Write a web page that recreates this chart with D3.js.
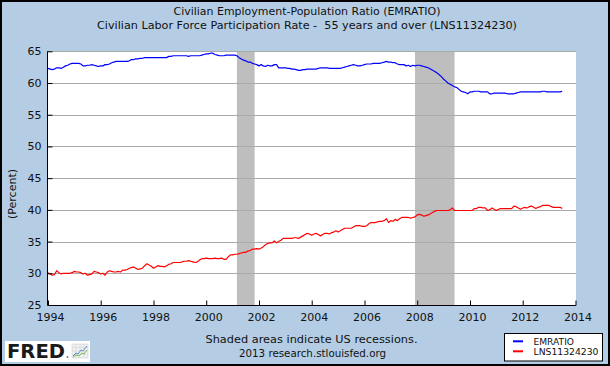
<!DOCTYPE html>
<html>
<head>
<meta charset="utf-8">
<script src="https://cdn.jsdelivr.net/npm/d3@7"></script>
<style>
html,body{margin:0;padding:0;background:#fff;}
svg{display:block;font-family:"DejaVu Sans",Verdana,sans-serif;}
</style>
</head>
<body>
<svg id="c" width="610" height="366"></svg>
<script>
// ---- Data (monthly, Jan 1994 .. Jul 2013) ----
const startYear = 1994;
const emratio = [
62.3,62.2,62.1,62.2,62.4,62.4,62.3,62.5,62.7,62.8,63.0,63.1,
63.1,63.1,63.1,63.0,62.7,62.7,62.8,62.8,62.9,62.8,62.7,62.6,
62.7,62.7,62.9,62.9,63.0,63.2,63.3,63.4,63.4,63.4,63.4,63.4,
63.4,63.5,63.7,63.7,63.8,63.8,63.9,63.9,64.0,64.0,64.0,64.0,
64.0,64.0,64.0,64.0,64.0,64.0,64.0,64.2,64.2,64.3,64.3,64.3,
64.3,64.3,64.3,64.3,64.2,64.3,64.3,64.3,64.3,64.3,64.4,64.5,
64.6,64.6,64.7,64.7,64.5,64.4,64.3,64.3,64.3,64.4,64.4,64.4,
64.4,64.4,64.3,64.0,63.8,63.6,63.5,63.3,63.3,63.1,63.0,62.9,
62.7,62.9,62.7,62.6,62.8,62.7,62.7,62.9,62.9,62.4,62.4,62.4,
62.4,62.3,62.3,62.2,62.2,62.1,62.0,62.0,62.1,62.1,62.2,62.2,
62.2,62.2,62.2,62.3,62.4,62.4,62.4,62.4,62.3,62.3,62.3,62.3,
62.3,62.3,62.4,62.5,62.6,62.7,62.8,62.9,62.8,62.7,62.7,62.8,
62.9,63.0,63.0,63.0,63.1,63.1,63.1,63.1,63.2,63.3,63.4,63.3,
63.3,63.2,63.2,63.0,62.9,62.9,62.9,62.7,62.8,62.6,62.8,62.7,
62.8,62.8,62.7,62.6,62.5,62.4,62.2,62.0,61.8,61.6,61.3,61.0,
60.6,60.3,60.0,59.8,59.6,59.4,59.3,59.0,58.7,58.6,58.5,58.3,
58.6,58.6,58.7,58.7,58.7,58.6,58.6,58.6,58.6,58.3,58.3,58.4,
58.4,58.4,58.4,58.4,58.4,58.3,58.3,58.3,58.3,58.4,58.5,58.6,
58.6,58.6,58.6,58.6,58.6,58.6,58.6,58.6,58.6,58.7,58.7,58.6,
58.6,58.6,58.6,58.6,58.6,58.6,58.7
];
const lns11324230 = [
30.1,29.9,29.7,29.8,30.4,30.1,29.9,30.0,30.0,30.0,30.0,30.1,
30.3,30.2,30.2,30.1,29.9,30.0,29.7,29.8,29.9,30.3,30.2,30.1,
29.9,30.0,29.7,30.2,30.4,30.3,30.2,30.2,30.3,30.2,30.5,30.5,
30.6,30.8,30.9,31.0,30.8,30.6,30.7,30.8,31.2,31.5,31.3,31.1,
30.8,31.0,31.2,31.1,31.1,31.0,31.2,31.4,31.5,31.7,31.7,31.7,
31.7,31.8,31.9,31.9,32.0,31.9,31.8,31.7,31.8,32.1,32.3,32.3,
32.4,32.3,32.3,32.3,32.4,32.3,32.3,32.4,32.2,32.2,32.6,32.9,
32.9,33.0,33.0,33.1,33.2,33.3,33.3,33.5,33.6,33.8,33.8,33.9,
33.8,34.0,34.2,34.5,34.7,34.8,34.8,35.1,34.8,35.0,35.2,35.5,
35.5,35.5,35.5,35.5,35.6,35.6,35.5,35.7,35.9,36.1,36.3,36.2,
36.0,36.2,36.3,36.1,35.9,36.1,36.3,36.3,36.2,36.4,36.5,36.7,
36.5,36.7,36.9,37.1,37.1,37.1,37.1,37.3,37.5,37.5,37.5,37.4,
37.4,37.5,37.8,38.0,38.0,38.0,38.1,38.2,38.2,38.3,38.6,38.0,
38.3,38.2,38.5,38.3,38.6,38.8,38.8,38.8,38.8,38.7,38.8,38.9,
39.2,39.3,39.2,39.0,39.1,39.2,39.4,39.6,39.8,39.9,39.9,39.9,
39.9,39.9,39.9,40.0,40.3,39.9,39.9,39.9,39.9,39.9,39.9,39.9,
39.9,39.9,40.2,40.2,40.4,40.4,40.3,40.3,39.9,40.0,40.3,40.1,
39.9,40.1,40.2,40.2,40.2,40.2,40.2,40.2,40.6,40.5,40.3,40.1,
40.3,40.4,40.3,40.5,40.6,40.4,40.2,40.4,40.5,40.7,40.7,40.7,
40.7,40.5,40.4,40.4,40.4,40.4,40.2
];
const yTickValues = [25,30,35,40,45,50,55,60,65];
const xTickYears = [1994,1996,1998,2000,2002,2004,2006,2008,2010,2012,2014];
const recessions = [["2001-03-01","2001-11-01"],["2007-12-01","2009-06-01"]];
const titleLines = ["Civilian Employment-Population Ratio (EMRATIO)",
                    "Civilian Labor Force Participation Rate -\u00a0 55 years and over (LNS11324230)"];
const seriesNames = ["EMRATIO","LNS11324230"];
const seriesColors = ["#0000ff","#ff0000"];

// ---- Layout ----
const W = 610, H = 366;
const L = 48, R = 575.5, T = 51.3, B = 305;
const svg = d3.select("#c");

svg.append("rect").attr("x",1).attr("y",1).attr("width",W-2).attr("height",H-2)
  .attr("fill","#b4cde4").attr("stroke","#000").attr("stroke-width",2);

const x = d3.scaleTime().domain([new Date(1994,0,1), new Date(2014,0,1)]).range([L,R]);
const y = d3.scaleLinear().domain([25,65]).range([B,T]);

svg.append("rect").attr("x",L).attr("y",T).attr("width",R-L+0.5).attr("height",B-T)
  .attr("fill","#fff");

// recessions
svg.append("g").selectAll("rect").data(recessions).join("rect")
  .attr("x",d=>x(new Date(d[0]))).attr("width",d=>x(new Date(d[1]))-x(new Date(d[0])))
  .attr("y",T).attr("height",B-T).attr("fill","#bebebe");

// gridlines
svg.append("g").selectAll("line").data(yTickValues.filter(v=>v>25)).join("line")
  .attr("x1",L).attr("x2",R+0.5).attr("y1",d=>Math.round(y(d))+0.5).attr("y2",d=>Math.round(y(d))+0.5)
  .attr("stroke","#aaaaaa").attr("stroke-width",1);

// series
const dates = emratio.map((_,i)=>new Date(startYear, i, 1));
const line = d3.line().x((d,i)=>x(dates[i])).y(d=>y(d));
[emratio, lns11324230].forEach((s,k)=>{
  svg.append("path").datum(s).attr("d",line).attr("fill","none")
    .attr("stroke",seriesColors[k]).attr("stroke-width",1.2).attr("stroke-linejoin","round");
});

// axes
const yAxis = d3.axisLeft(y).tickValues(yTickValues).tickSize(-5).tickPadding(6).tickFormat(d3.format("d"));
const gy = svg.append("g").attr("transform",`translate(${L-0.5},0)`).call(yAxis);
gy.select(".domain").attr("stroke","#000").attr("d",`M0,${T}V${B}`);
gy.selectAll(".tick line").attr("stroke","#000");
gy.selectAll("text").attr("font-size",11).attr("fill","#111").attr("font-family","DejaVu Sans, sans-serif");

const xAxis = d3.axisBottom(x).tickValues(xTickYears.map(yr=>new Date(yr,0,1))).tickSize(-5).tickPadding(8)
  .tickFormat(d3.timeFormat("%Y"));
const gx = svg.append("g").attr("transform",`translate(0,${B+0.5})`).call(xAxis);
gx.select(".domain").attr("stroke","#000").attr("d",`M${L-0.5},0H${R+0.5}`);
gx.selectAll(".tick line").attr("stroke","#000");
gx.selectAll("text").attr("font-size",11).attr("fill","#111").attr("dx",2).attr("font-family","DejaVu Sans, sans-serif");

// title
const tl = [[titleLines[0],14.7,267],[titleLines[1],28.7,420]];
tl.forEach(([t,yy,w])=>{
  svg.append("text").attr("x",307).attr("y",yy).attr("text-anchor","middle")
    .attr("font-size",11).attr("fill","#111").attr("textLength",w).attr("lengthAdjust","spacingAndGlyphs").text(t);
});

// y label
svg.append("text").attr("transform","translate(16,194) rotate(-90)").attr("text-anchor","middle")
  .attr("font-size",11).attr("fill","#111").text("(Percent)");

// footer
svg.append("text").attr("x",311.5).attr("y",343.3).attr("text-anchor","middle").attr("font-size",11)
  .attr("fill","#111").attr("textLength",212).attr("lengthAdjust","spacingAndGlyphs").text("Shaded areas indicate US recessions.");
svg.append("text").attr("x",312.5).attr("y",357.3).attr("text-anchor","middle").attr("font-size",11)
  .attr("fill","#111").attr("textLength",147).attr("lengthAdjust","spacingAndGlyphs").text("2013 research.stlouisfed.org");

// legend
const lg = svg.append("g");
lg.append("rect").attr("x",504.5).attr("y",333.5).attr("width",98).attr("height",27.5)
  .attr("fill","#fff").attr("stroke","#000").attr("stroke-width",1);
seriesNames.forEach((n,i)=>{
  const yy = 341.3 + i*10;
  lg.append("line").attr("x1",513).attr("x2",523).attr("y1",yy).attr("y2",yy)
    .attr("stroke",seriesColors[i]).attr("stroke-width",2);
  lg.append("text").attr("x",533.5).attr("y",yy+3.2).attr("font-size",9).attr("fill","#111")
    .attr("textLength",i===0?40.5:65).attr("lengthAdjust","spacingAndGlyphs").text(n);
});

// FRED logo
const fl = svg.append("g");
fl.append("rect").attr("x",5).attr("y",341).attr("width",85).attr("height",21).attr("fill","#fff");
fl.append("text").attr("x",7).attr("y",358.3).attr("font-size",20).attr("font-weight","bold")
  .attr("fill","#1a1a1a").attr("textLength",58).attr("lengthAdjust","spacingAndGlyphs")
  .attr("font-family","DejaVu Sans, sans-serif").text("FRED");
fl.append("circle").attr("cx",67.5).attr("cy",357).attr("r",1).attr("fill","#777");
const ic = fl.append("g").attr("transform","translate(72,344)");
ic.append("rect").attr("width",16).attr("height",14).attr("fill","#eef0f2").attr("stroke","#c8c8c8").attr("stroke-width",0.5);
[4,8,12].forEach(v=>{
  ic.append("line").attr("x1",v).attr("x2",v).attr("y1",0).attr("y2",14).attr("stroke","#d0d0d0").attr("stroke-width",0.5);
});
[3.5,7,10.5].forEach(v=>{
  ic.append("line").attr("x1",0).attr("x2",16).attr("y1",v).attr("y2",v).attr("stroke","#d0d0d0").attr("stroke-width",0.5);
});
ic.append("path").attr("d","M1,12L4,9L6,10L9,6L11,7L15,2").attr("fill","none").attr("stroke","#5a8fc8").attr("stroke-width",1);
ic.append("path").attr("d","M1,13L4,11L7,12L10,9L12,10L15,6").attr("fill","none").attr("stroke","#7cbf4a").attr("stroke-width",1);
</script>
</body>
</html>
